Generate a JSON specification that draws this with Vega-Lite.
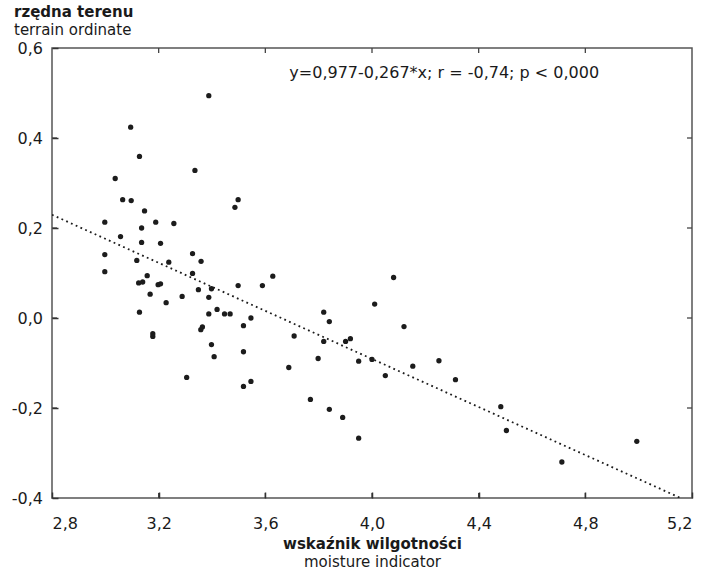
{
  "$schema": "https://vega.github.io/schema/vega-lite/v6.json",
  "width": 640,
  "height": 450,
  "autosize": {"type": "none"},
  "padding": {"left": 52, "top": 48, "right": 22, "bottom": 78},
  "background": "white",
  "title": {
    "text": "rzędna terenu",
    "subtitle": "terrain ordinate",
    "anchor": "start",
    "frame": "group",
    "dx": -38,
    "offset": 2,
    "font": "DejaVu Sans",
    "fontSize": 15,
    "fontWeight": "bold",
    "color": "#1a1a1a",
    "subtitleFont": "DejaVu Sans",
    "subtitleFontSize": 15,
    "subtitleColor": "#1a1a1a",
    "subtitlePadding": 3
  },
  "datasets": {
    "points": [
      {"x": 3.388, "y": 0.494}, {"x": 3.095, "y": 0.424}, {"x": 3.128, "y": 0.359}, {"x": 3.336, "y": 0.328},
      {"x": 3.037, "y": 0.310}, {"x": 3.065, "y": 0.263}, {"x": 3.097, "y": 0.261}, {"x": 3.498, "y": 0.263},
      {"x": 3.486, "y": 0.246}, {"x": 3.147, "y": 0.238}, {"x": 2.998, "y": 0.213}, {"x": 3.136, "y": 0.200},
      {"x": 3.189, "y": 0.213}, {"x": 3.257, "y": 0.210}, {"x": 3.057, "y": 0.181}, {"x": 3.136, "y": 0.168},
      {"x": 3.207, "y": 0.166}, {"x": 2.998, "y": 0.141}, {"x": 3.327, "y": 0.143}, {"x": 3.118, "y": 0.128},
      {"x": 3.238, "y": 0.124}, {"x": 3.359, "y": 0.126}, {"x": 2.998, "y": 0.103}, {"x": 3.327, "y": 0.099},
      {"x": 3.157, "y": 0.094}, {"x": 3.125, "y": 0.078}, {"x": 3.140, "y": 0.080}, {"x": 3.198, "y": 0.074},
      {"x": 3.207, "y": 0.076}, {"x": 3.628, "y": 0.093}, {"x": 3.498, "y": 0.072}, {"x": 3.589, "y": 0.072},
      {"x": 3.168, "y": 0.053}, {"x": 3.349, "y": 0.063}, {"x": 3.398, "y": 0.065}, {"x": 3.228, "y": 0.034},
      {"x": 3.288, "y": 0.048}, {"x": 3.388, "y": 0.046}, {"x": 3.128, "y": 0.013}, {"x": 3.419, "y": 0.019},
      {"x": 3.388, "y": 0.009}, {"x": 3.447, "y": 0.009}, {"x": 3.468, "y": 0.009}, {"x": 3.546, "y": 0.000},
      {"x": 3.518, "y": -0.017}, {"x": 3.364, "y": -0.020}, {"x": 3.358, "y": -0.026}, {"x": 3.708, "y": -0.040},
      {"x": 3.178, "y": -0.035}, {"x": 3.178, "y": -0.041}, {"x": 3.398, "y": -0.059}, {"x": 3.518, "y": -0.075},
      {"x": 3.408, "y": -0.086}, {"x": 3.688, "y": -0.110}, {"x": 3.305, "y": -0.132}, {"x": 3.546, "y": -0.141},
      {"x": 3.518, "y": -0.152}, {"x": 4.081, "y": 0.090}, {"x": 4.010, "y": 0.031}, {"x": 3.819, "y": 0.013},
      {"x": 3.840, "y": -0.008}, {"x": 4.120, "y": -0.019}, {"x": 3.819, "y": -0.052}, {"x": 3.901, "y": -0.052},
      {"x": 3.919, "y": -0.046}, {"x": 3.798, "y": -0.090}, {"x": 3.950, "y": -0.096}, {"x": 4.000, "y": -0.092},
      {"x": 4.153, "y": -0.107}, {"x": 4.251, "y": -0.095}, {"x": 4.050, "y": -0.128}, {"x": 4.313, "y": -0.137},
      {"x": 3.769, "y": -0.181}, {"x": 3.840, "y": -0.203}, {"x": 3.890, "y": -0.221}, {"x": 3.950, "y": -0.267},
      {"x": 4.483, "y": -0.197}, {"x": 4.504, "y": -0.250}, {"x": 4.712, "y": -0.320}, {"x": 4.993, "y": -0.274}
    ],
    "fit": [
      {"x": 2.8, "y": 0.2294},
      {"x": 5.2, "y": -0.4114}
    ],
    "xticks": [{"v": 3.2}, {"v": 3.6}, {"v": 4.0}, {"v": 4.4}, {"v": 4.8}],
    "yticks": [{"v": -0.2}, {"v": 0.0}, {"v": 0.2}, {"v": 0.4}]
  },
  "layer": [
    {
      "data": {"name": "points"},
      "mark": {"type": "point", "shape": "circle", "filled": true, "size": 28, "color": "#1c1c1c", "opacity": 1},
      "encoding": {
        "x": {
          "field": "x", "type": "quantitative",
          "scale": {"domain": [2.8, 5.2], "nice": false, "zero": false},
          "axis": {
            "orient": "bottom",
            "offset": -6,
            "zindex": 2,
            "ticks": true,
            "tickSize": 6,
            "tickColor": "#333333",
            "tickWidth": 1.5,
            "values": [2.8, 3.2, 3.6, 4.0, 4.4, 4.8, 5.2],
            "labelExpr": "replace(format(datum.value, '.1f'), '.', ',')",
            "title": "wskaźnik wilgotności",
            "titleFontWeight": "bold",
            "titleBaseline": "alphabetic",
            "titleY": 56,
            "labelPadding": 17,
            "labelBaseline": "top"
          }
        },
        "y": {
          "field": "y", "type": "quantitative",
          "scale": {"domain": [-0.4, 0.6], "nice": false, "zero": false},
          "axis": {
            "orient": "left",
            "offset": -6,
            "zindex": 2,
            "ticks": true,
            "tickSize": 6,
            "tickColor": "#333333",
            "tickWidth": 1.5,
            "values": [-0.4, -0.2, 0.0, 0.2, 0.4, 0.6],
            "labelExpr": "datum.value < 0 ? '-' + replace(format(abs(datum.value), '.1f'), '.', ',') : replace(format(datum.value, '.1f'), '.', ',')",
            "title": null,
            "labelPadding": 9.5
          }
        }
      }
    },
    {
      "data": {"name": "fit"},
      "mark": {"type": "line", "color": "#1c1c1c", "strokeWidth": 1.8, "strokeDash": [1.8, 3.4], "clip": true},
      "encoding": {
        "x": {"field": "x", "type": "quantitative", "axis": null},
        "y": {"field": "y", "type": "quantitative", "axis": null}
      }
    },
    {
      "data": {"name": "xticks"},
      "mark": {"type": "rule", "color": "#444444", "strokeWidth": 1.3},
      "encoding": {
        "x": {"field": "v", "type": "quantitative", "axis": null},
        "y": {"datum": -0.4, "type": "quantitative", "axis": null},
        "y2": {"datum": -0.389}
      }
    },
    {
      "data": {"name": "xticks"},
      "mark": {"type": "rule", "color": "#444444", "strokeWidth": 1.3},
      "encoding": {
        "x": {"field": "v", "type": "quantitative", "axis": null},
        "y": {"datum": 0.6, "type": "quantitative", "axis": null},
        "y2": {"datum": 0.589}
      }
    },
    {
      "data": {"name": "yticks"},
      "mark": {"type": "rule", "color": "#444444", "strokeWidth": 1.3},
      "encoding": {
        "y": {"field": "v", "type": "quantitative", "axis": null},
        "x": {"datum": 2.8, "type": "quantitative", "axis": null},
        "x2": {"datum": 2.8187}
      }
    },
    {
      "data": {"name": "yticks"},
      "mark": {"type": "rule", "color": "#444444", "strokeWidth": 1.3},
      "encoding": {
        "y": {"field": "v", "type": "quantitative", "axis": null},
        "x": {"datum": 5.2, "type": "quantitative", "axis": null},
        "x2": {"datum": 5.1813}
      }
    },
    {
      "data": {"values": [{"label": "y=0,977-0,267*x; r = -0,74; p < 0,000", "x": 3.69, "y": 0.545}]},
      "mark": {"type": "text", "align": "left", "baseline": "middle", "font": "DejaVu Sans", "fontSize": 16, "color": "#1a1a1a"},
      "encoding": {
        "x": {
          "field": "x", "type": "quantitative",
          "axis": {"orient": "bottom", "labels": false, "ticks": false, "domain": false, "title": "moisture indicator", "titleFontWeight": "normal", "titleBaseline": "alphabetic", "titleY": 68}
        },
        "y": {"field": "y", "type": "quantitative", "axis": null},
        "text": {"field": "label"}
      }
    }
  ],
  "resolve": {"axis": {"x": "independent", "y": "independent"}},
  "config": {
    "view": {"stroke": "#555555", "strokeWidth": 1.5},
    "axis": {
      "grid": false,
      "domain": false,
      "labelFont": "DejaVu Sans",
      "labelFontSize": 16,
      "labelColor": "#1a1a1a",
      "titleFont": "DejaVu Sans",
      "titleFontSize": 15,
      "titleColor": "#1a1a1a"
    }
  }
}
